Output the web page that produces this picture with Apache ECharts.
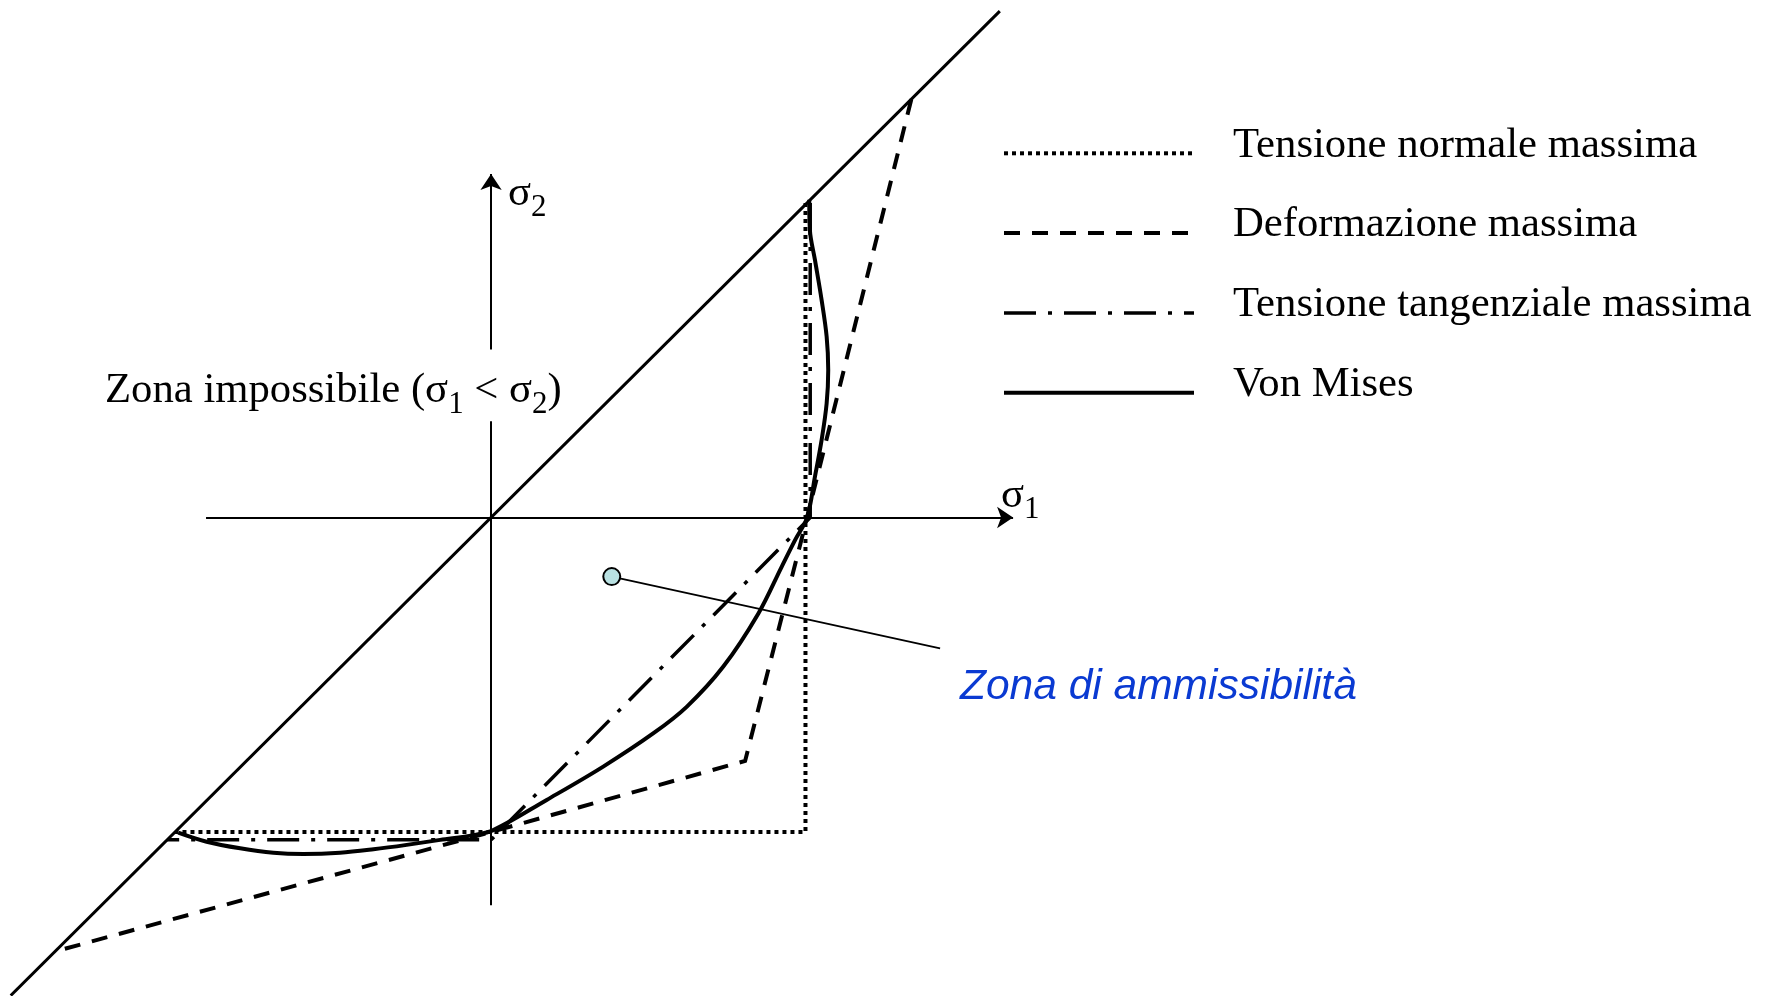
<!DOCTYPE html>
<html lang="it">
<head>
<meta charset="utf-8">
<title>Criteri di resistenza nel piano σ1 – σ2</title>
<script src="https://cdn.jsdelivr.net/npm/echarts@6/dist/echarts.min.js"></script>
<style>
  html, body { margin: 0; padding: 0; background: #ffffff; }
  #chart { width: 1768px; height: 996px; }
</style>
</head>
<body>
<div id="chart"></div>
<script>
// Tensioni principali normalizzate sulla tensione di snervamento (σ / σy)

// Retta σ1 = σ2: separa la zona impossibile
const bisettrice = [[-1.52, -1.52], [1.61, 1.61]];

// Criteri di resistenza
const nomiCriteri = [
  'Tensione normale massima',
  'Deformazione massima',
  'Tensione tangenziale massima',
  'Von Mises'
];
const tensioneNormaleMassima = [[0.995, 1.0], [0.995, -1.0], [-1.0, -1.0]];
const deformazioneMassima = [[1.33, 1.33], [1.0, 0.0], [0.804, -0.774], [0.0, -1.0], [-1.38, -1.38]];
const tensioneTangenzialeMassima = [[1.01, 1.0], [1.01, 0.0], [0.0, -1.025], [-1.025, -1.025]];
const vonMises = [
  [1.007, 1.010], [1.009, 0.914], [1.025, 0.819], [1.046, 0.692], [1.062, 0.575],
  [1.067, 0.469], [1.062, 0.363], [1.046, 0.246], [1.025, 0.130], [1.0, 0.0],
  [0.962, -0.072], [0.920, -0.156], [0.846, -0.305], [0.735, -0.474], [0.619, -0.602],
  [0.514, -0.686], [0.355, -0.792], [0.176, -0.898], [0.007, -0.994],
  [-0.056, -1.010], [-0.161, -1.025], [-0.267, -1.041], [-0.372, -1.055], [-0.478, -1.066],
  [-0.594, -1.070], [-0.689, -1.066], [-0.794, -1.052], [-0.900, -1.031], [-0.990, -1.002]
];

// Punto interno al dominio e richiamo verso la didascalia
const puntoAmmissibile = [0.382, -0.188];
const fineRichiamo = [1.421, -0.416];

// Assi σ1 e σ2 (l'asse σ2 è interrotto dalla scritta)
const asseSigma1 = [[-0.902, 0], [1.652, 0]];
const asseSigma2Inferiore = [[0, -1.233], [0, 0.306]];
const asseSigma2Superiore = [[0, 0.534], [0, 1.092]];

// Estensione del piano disegnato
const limitiSigma1 = [-1.554, 4.041];
const limitiSigma2 = [-1.5215, 1.6455];

// Scritte con pedici: [testo, è pedice]
const scrittaZonaImpossibile = [['Zona impossibile (σ', false], ['1', true], [' < σ', false], ['2', true], [')', false]];
const etichettaSigma2 = [['σ', false], ['2', true]];
const etichettaSigma1 = [['σ', false], ['1', true]];
const scrittaAmmissibilita = 'Zona di ammissibilità';

const SERIF = "'Liberation Serif', 'Times New Roman', serif";
const SANS = "'Liberation Sans', Arial, sans-serif";
const NERO = '#000000';
const CORPO = 42.7;      // corpo del testo normale
const CORPO_PEDICE = 31; // corpo dei pedici
const ABBASSO_PEDICE = 10;

// Tratteggi dei quattro criteri (stesso ordine di nomiCriteri)
const tratti = [
  { tipo: [4, 4], spessore: 4 },
  { tipo: [16, 12], spessore: 4 },
  { tipo: [32, 12, 4, 12], spessore: 3.5 },
  { tipo: 'solid', spessore: 4 }
];

// Misura le parti con il canvas e le affianca sulla stessa linea di base
const misura = document.createElement('canvas').getContext('2d');
function testoConPedici(parti, x, lineaBase) {
  let cx = x;
  return parti.map(([testo, pedice]) => {
    const corpo = pedice ? CORPO_PEDICE : CORPO;
    const font = corpo + 'px ' + SERIF;
    misura.font = font;
    const larghezza = misura.measureText(testo).width;
    const base = pedice ? lineaBase + ABBASSO_PEDICE : lineaBase;
    const el = {
      type: 'text',
      x: cx,
      y: base - 0.3375 * corpo,
      silent: true,
      style: { text: testo, font: font, fill: NERO, align: 'left', verticalAlign: 'middle' }
    };
    cx += larghezza;
    return el;
  });
}

// Legenda: campione di linea a sinistra, nome del criterio a destra
function legenda(x, y0, passo) {
  const elementi = [];
  nomiCriteri.forEach((nome, i) => {
    const y = y0 + i * passo;
    const t = tratti[i];
    elementi.push({
      type: 'line',
      silent: true,
      shape: { x1: x, y1: y, x2: x + 190, y2: y },
      style: {
        stroke: NERO,
        lineWidth: t.spessore,
        lineDash: Array.isArray(t.tipo) ? t.tipo : null,
        lineCap: 'butt'
      }
    });
    elementi.push({
      type: 'text',
      silent: true,
      x: x + 229,
      y: y - 8,
      style: { text: nome, font: CORPO + 'px ' + SERIF, fill: NERO, align: 'left', verticalAlign: 'middle' }
    });
  });
  return elementi;
}

const chart = echarts.init(document.getElementById('chart'), null, { renderer: 'canvas' });

const stileLinea = (tipo, spessore) => ({ color: NERO, width: spessore, type: tipo, cap: 'butt', join: 'miter', opacity: 1 });

chart.setOption({
  animation: false,
  backgroundColor: '#ffffff',
  grid: { left: 0, right: 0, top: 0, bottom: 0, containLabel: false },
  xAxis: { type: 'value', min: limitiSigma1[0], max: limitiSigma1[1], show: false },
  yAxis: { type: 'value', min: limitiSigma2[0], max: limitiSigma2[1], show: false },
  graphic: [
    ...legenda(1004, 153.3, 79.8),
    ...testoConPedici(scrittaZonaImpossibile, 105, 405.3),
    ...testoConPedici(etichettaSigma2, 508, 208),
    ...testoConPedici(etichettaSigma1, 1001, 510),
    {
      type: 'text',
      x: 960,
      y: 687.6,
      silent: true,
      style: {
        text: scrittaAmmissibilita,
        font: 'italic 42.5px ' + SANS,
        fill: '#0a3ad2',
        align: 'left',
        verticalAlign: 'middle'
      }
    }
  ],
  series: [
    {
      name: 'assi con freccia',
      type: 'lines',
      coordinateSystem: 'cartesian2d',
      polyline: false,
      symbol: ['none', 'arrow'],
      symbolSize: [12, 16],
      lineStyle: { color: NERO, width: 2, opacity: 1, curveness: 0 },
      silent: true,
      data: [{ coords: asseSigma1 }, { coords: asseSigma2Superiore }]
    },
    {
      name: 'asse σ2',
      type: 'lines',
      coordinateSystem: 'cartesian2d',
      polyline: false,
      symbol: ['none', 'none'],
      lineStyle: { color: NERO, width: 2, opacity: 1, curveness: 0 },
      silent: true,
      data: [{ coords: asseSigma2Inferiore }]
    },
    {
      name: 'σ1 = σ2',
      type: 'line',
      data: bisettrice,
      symbol: 'none',
      silent: true,
      lineStyle: stileLinea('solid', 3)
    },
    ...[tensioneNormaleMassima, deformazioneMassima, tensioneTangenzialeMassima, vonMises].map((dati, i) => ({
      name: nomiCriteri[i],
      type: 'line',
      data: dati,
      symbol: 'none',
      smooth: dati === vonMises ? 0.35 : false,
      silent: true,
      itemStyle: { color: NERO },
      lineStyle: stileLinea(tratti[i].tipo, tratti[i].spessore)
    })),
    {
      name: 'richiamo',
      type: 'line',
      symbol: 'none',
      showSymbol: true,
      silent: true,
      z: 5,
      lineStyle: { color: NERO, width: 1.8, type: 'solid', opacity: 1 },
      data: [
        {
          value: puntoAmmissibile,
          symbol: 'circle',
          symbolSize: 17,
          itemStyle: { color: '#b9e1e2', borderColor: NERO, borderWidth: 2 }
        },
        { value: fineRichiamo, symbol: 'none' }
      ]
    }
  ]
});
</script>
</body>
</html>
